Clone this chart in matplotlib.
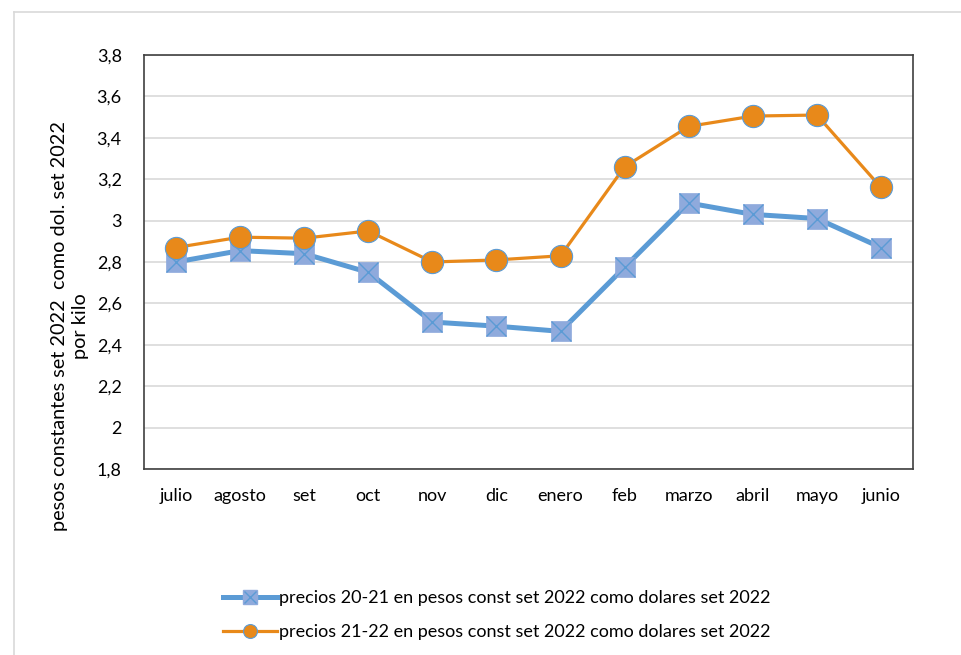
import matplotlib
matplotlib.use("Agg")
import matplotlib.pyplot as plt
from matplotlib.lines import Line2D
from matplotlib.legend_handler import HandlerTuple

plt.rcParams['font.family'] = ['Lato', 'DejaVu Sans']

months = ["julio", "agosto", "set", "oct", "nov", "dic", "enero", "feb", "marzo", "abril", "mayo", "junio"]
precios_20_21 = [2.80, 2.855, 2.84, 2.75, 2.51, 2.49, 2.465, 2.775, 3.085, 3.03, 3.01, 2.87]
precios_21_22 = [2.87, 2.92, 2.915, 2.95, 2.80, 2.81, 2.83, 3.26, 3.455, 3.505, 3.51, 3.16]
yticks = [1.8, 2.0, 2.2, 2.4, 2.6, 2.8, 3.0, 3.2, 3.4, 3.6, 3.8]
ytick_labels = ["1,8", "2", "2,2", "2,4", "2,6", "2,8", "3", "3,2", "3,4", "3,6", "3,8"]
label_20_21 = "precios 20-21 en pesos const set 2022 como dolares set 2022"
label_21_22 = "precios 21-22 en pesos const set 2022 como dolares set 2022"
ylabel = "pesos constantes set 2022  como dol. set 2022\npor kilo"

W, H = 961, 655
fig = plt.figure(figsize=(W/100, H/100), dpi=100)
ax = fig.add_axes([144/W, 1-469/H, (913-144)/W, (469-55)/H])

x = list(range(len(months)))
blue = "#5B9BD5"
blue_face = "#8FAADC"
orange = "#E8891A"

ax.plot(x, precios_20_21, color=blue, lw=3.6, zorder=3)
ax.plot(x, precios_20_21, ls="none", marker="s", ms=15, mfc=blue_face, mec=blue_face, mew=0.5, zorder=4)
ax.plot(x, precios_20_21, ls="none", marker="x", ms=14, mec=blue, mew=1.0, zorder=5)
ax.plot(x, precios_21_22, color=orange, lw=2.3, marker="o", ms=16, mfc=orange, mec=blue, mew=0.8, zorder=6)

ax.set_xlim(-0.5, len(months)-0.5)
ax.set_ylim(1.8, 3.8)
ax.set_yticks(yticks)
ax.set_yticklabels(ytick_labels, fontsize=13)
ax.set_xticks(x)
ax.set_xticklabels(months, fontsize=13)
ax.tick_params(length=0)
ax.tick_params(axis='x', pad=14)
ax.tick_params(axis='y', pad=16)
ax.grid(axis='y', color='#D9D9D9', lw=1.2)
ax.set_axisbelow(True)
for s in ax.spines.values():
    s.set_color('#404040')
    s.set_linewidth(1.2)

fig.text(70/W, 1-326/H, ylabel, rotation=90, ha='center', va='center',
         multialignment='center', fontsize=14.3, linespacing=1.25)

# outer chart border (light gray)
fig.add_artist(Line2D([14/W, 1.0], [1-12/H, 1-12/H], color='#D9D9D9', lw=1.2))
fig.add_artist(Line2D([14/W, 14/W], [0, 1-12/H], color='#D9D9D9', lw=1.2))

h1a = Line2D([], [], color=blue, lw=3.6, marker="s", ms=10, mfc=blue_face, mec=blue_face)
h1b = Line2D([], [], ls="none", marker="x", ms=9, mec=blue, mew=1.0)
h2 = Line2D([], [], color=orange, lw=2.3, marker="o", ms=10, mfc=orange, mec=blue, mew=0.8)
fig.legend([(h1a, h1b), h2], [label_20_21, label_21_22], loc='center', bbox_to_anchor=(497/W, 1-615/H),
           frameon=False, fontsize=13, handlelength=3.0, handletextpad=0.1, labelspacing=1.0,
           handler_map={tuple: HandlerTuple(ndivide=1, pad=0)})

fig.savefig("out.png", dpi=100)
